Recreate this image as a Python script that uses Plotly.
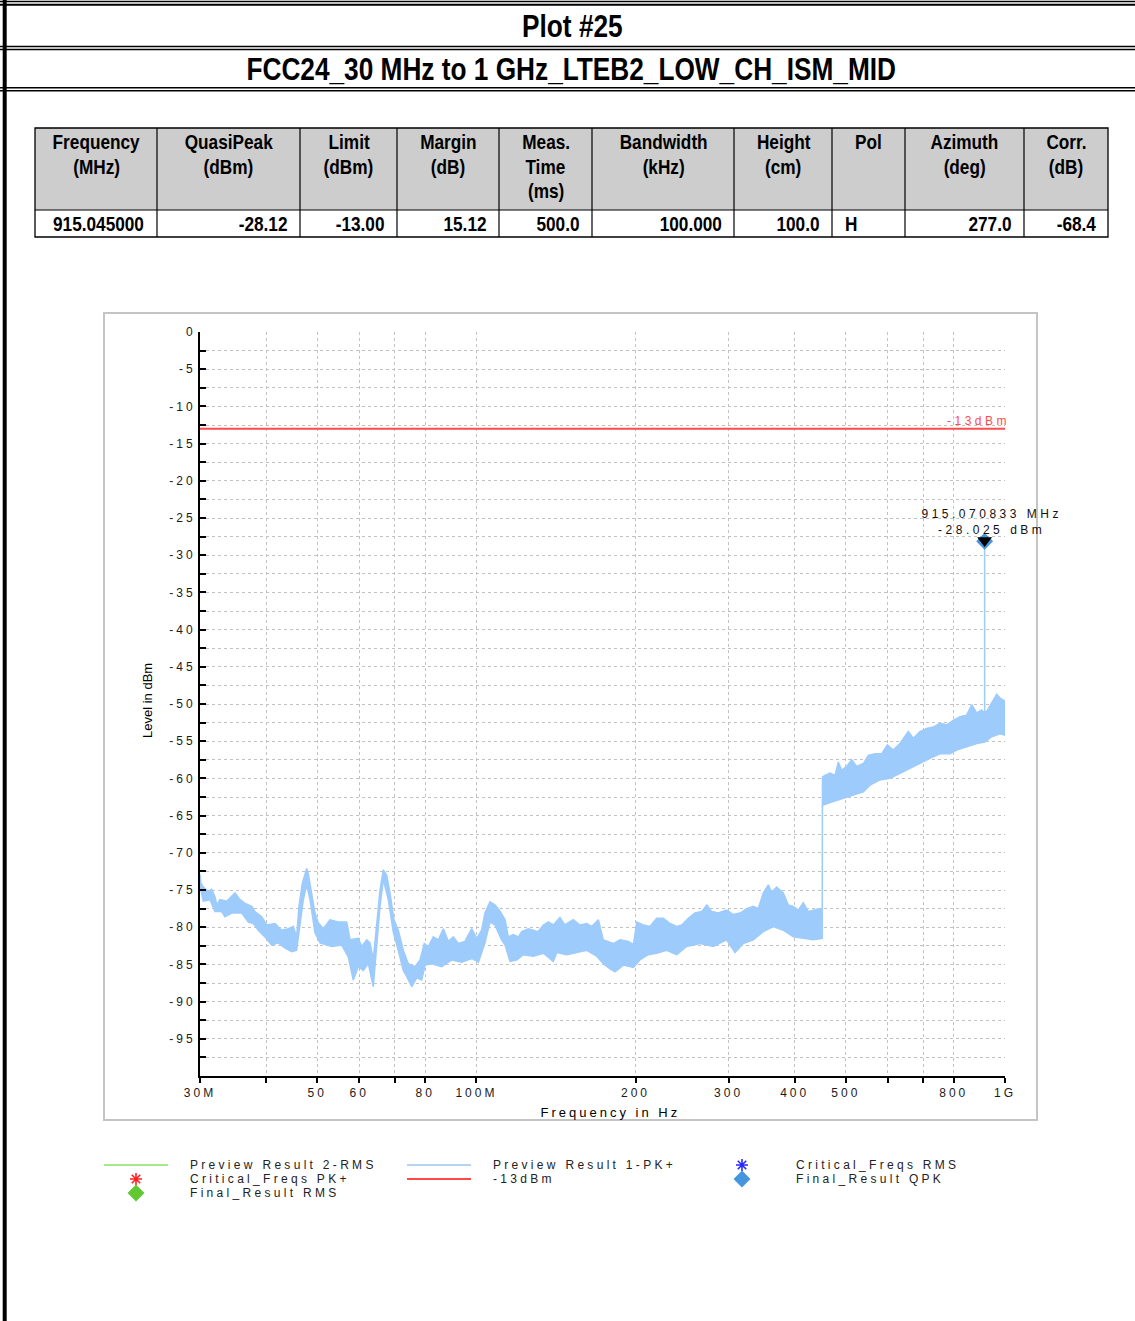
import math
import plotly.graph_objects as go

W, H = 1135, 1321

# ---------------- data ----------------
plot_title = "Plot #25"
test_name = "FCC24_30 MHz to 1 GHz_LTEB2_LOW_CH_ISM_MID"

table_headers = ["Frequency<br>(MHz)", "QuasiPeak<br>(dBm)", "Limit<br>(dBm)", "Margin<br>(dB)",
                 "Meas.<br>Time<br>(ms)", "Bandwidth<br>(kHz)", "Height<br>(cm)", "Pol",
                 "Azimuth<br>(deg)", "Corr.<br>(dB)"]
table_values = ["915.045000", "-28.12", "-13.00", "15.12", "500.0", "100.000", "100.0", "H", "277.0", "-68.4"]
table_align = ["center", "right", "right", "right", "right", "right", "right", "left", "right", "right"]

# Preview Result 1-PK+ : upper / lower envelope of the noisy trace (MHz, dBm)
pk_upper_freq = [30.0, 30.13, 30.44, 31.1, 31.57, 32.02, 32.27, 32.73, 33.7, 34.94, 35.71, 36.5, 37.58, 38.12,
                 39.25, 40.1, 41.6, 42.8, 44.08, 45.04, 45.7, 46.17, 46.84, 47.75, 48.08, 48.8, 49.5, 50.22,
                 51.34, 52.85, 54.78, 56.84, 57.67, 59.79, 60.68, 62.02, 62.91, 63.81, 64.77, 65.71, 66.66,
                 67.65, 68.63, 69.84, 71.16, 72.73, 74.34, 76.53, 78.22, 79.7, 81.1, 82.9, 84.72, 86.59, 88.49,
                 90.45, 92.44, 95.14, 97.97, 100.13, 102.3, 103.8, 106.1, 108.4, 110.8, 113.3, 114.9, 117.5,
                 120.1, 121.8, 125.4, 130.7, 133.9, 136.8, 139.8, 143.9, 147.0, 152.5, 157.0, 161.7, 165.2,
                 170.1, 173.8, 181.6, 187.0, 193.9, 198.2, 201.1, 207.0, 213.0, 219.3, 225.8, 232.4, 239.3,
                 244.6, 251.7, 259.2, 266.8, 272.8, 278.7, 286.8, 297.5, 306.2, 315.3, 324.6, 334.0, 341.4,
                 348.9, 356.6, 361.9, 369.9, 380.7, 389.0, 397.6, 406.4, 415.3, 424.4, 437.0, 446.7, 451.0,
                 451.5, 456.6, 466.6, 476.9, 483.8, 491.0, 501.8, 512.9, 524.2, 539.5, 551.4, 567.7, 584.5,
                 598.9, 614.8, 632.8, 656.2, 670.7, 690.4, 711.0, 731.8, 753.3, 775.6, 798.2, 822.0, 846.2,
                 865.0, 884.0, 903.4, 912.6, 915.0, 915.07, 915.14, 923.4, 943.7, 964.5, 978.5, 992.7, 1000.0]
pk_upper_level = [-72.9, -74.1, -74.6, -75.2, -74.9, -75.9, -77.0, -76.3, -76.5, -75.4, -76.3, -76.8, -77.2, -77.9,
                  -78.6, -79.7, -79.5, -80.4, -80.2, -79.9, -81.3, -77.2, -74.1, -72.1, -72.8, -75.4, -78.1, -79.4,
                  -80.2, -79.0, -79.3, -79.3, -81.7, -81.5, -82.6, -81.7, -82.1, -84.4, -79.9, -75.0, -72.3,
                  -73.0, -75.4, -79.0, -80.4, -83.1, -84.9, -85.3, -84.4, -82.2, -82.6, -81.3, -81.7, -80.2, -81.9,
                  -81.3, -82.2, -81.9, -80.2, -81.5, -80.4, -78.1, -76.6, -77.0, -77.8, -79.0, -81.3, -81.0,
                  -81.3, -80.6, -80.2, -80.6, -79.7, -79.3, -79.7, -78.7, -79.7, -79.0, -79.7, -79.5, -79.9,
                  -79.0, -81.7, -82.2, -81.7, -81.9, -82.3, -79.3, -79.7, -79.9, -78.8, -78.8, -79.5, -79.9,
                  -79.7, -78.8, -78.1, -77.9, -77.0, -77.9, -78.1, -77.7, -78.3, -78.1, -77.5, -77.2, -77.5,
                  -75.4, -74.3, -75.3, -74.6, -75.4, -77.0, -77.2, -77.7, -76.7, -77.9, -77.7, -77.5, -77.7,
                  -59.8, -59.6, -59.3, -59.6, -57.8, -58.9, -58.4, -57.5, -58.4, -58.0, -56.9, -56.7, -56.7,
                  -55.5, -56.2, -55.3, -53.7, -54.6, -53.7, -53.3, -53.1, -52.6, -52.8, -52.2, -51.7, -51.5,
                  -50.1, -51.2, -50.8, -51.2, -51.0, -28.025, -51.0, -51.0, -49.9, -48.7, -49.2, -49.4, -49.6]
pk_lower_freq = [30.0, 30.44, 31.34, 32.02, 32.97, 33.45, 34.44, 35.98, 37.03, 37.84, 38.68, 39.8, 41.0, 42.2,
                 43.45, 44.74, 45.7, 46.17, 47.05, 47.75, 48.44, 49.5, 50.6, 52.1, 53.24, 55.61, 57.23, 58.49,
                 59.79, 61.1, 62.46, 63.81, 64.77, 65.71, 66.66, 68.14, 69.64, 71.16, 72.73, 73.81, 75.44,
                 77.11, 78.8, 80.0, 82.3, 85.99, 89.82, 93.83, 97.97, 100.9, 103.8, 106.1, 108.4, 111.6, 113.3,
                 115.8, 119.2, 122.7, 128.1, 133.9, 139.8, 141.9, 148.2, 154.8, 161.7, 168.9, 173.8, 179.0,
                 182.9, 189.7, 198.2, 203.9, 211.4, 219.3, 229.1, 239.3, 249.9, 264.9, 280.7, 297.5, 308.5,
                 319.8, 334.0, 348.9, 364.5, 380.7, 397.6, 415.3, 433.8, 451.0, 451.5, 473.0, 494.5, 516.5,
                 539.5, 555.4, 580.0, 606.0, 632.8, 661.0, 690.4, 721.2, 753.3, 786.8, 810.2, 846.2, 884.0,
                 915.6, 943.7, 978.5, 1000.0]
pk_lower_level = [-74.5, -76.5, -76.3, -77.9, -77.9, -78.6, -78.1, -78.1, -79.3, -79.5, -80.4, -81.3, -82.4, -82.1,
                  -82.8, -83.3, -83.1, -80.7, -76.3, -74.3, -76.3, -80.7, -82.1, -82.4, -82.6, -82.4, -84.0, -87.1,
                  -85.3, -85.8, -84.9, -88.0, -83.1, -77.2, -73.6, -76.3, -80.7, -83.1, -85.8, -86.6, -88.0,
                  -86.8, -87.1, -85.1, -84.9, -85.3, -84.4, -84.7, -84.2, -84.7, -82.1, -79.3, -79.7, -81.7, -82.4,
                  -84.6, -84.4, -83.7, -83.9, -83.5, -84.6, -83.4, -83.7, -83.4, -83.1, -83.9, -84.9, -85.6,
                  -86.0, -85.1, -85.4, -84.4, -83.7, -83.5, -83.1, -83.7, -82.6, -82.2, -82.6, -81.7, -83.4,
                  -82.2, -81.7, -80.6, -79.9, -80.4, -81.3, -81.5, -81.7, -81.5, -63.6, -63.1, -62.7, -62.2,
                  -61.8, -60.9, -60.2, -60.0, -59.3, -58.6, -58.0, -57.3, -56.7, -56.7, -56.2, -55.7, -55.3,
                  -55.1, -54.4, -54.0, -54.2]

limit_freq = [30, 1000]
limit_level = [-13, -13]
limit_name = "-13dBm"

marker_freq = 915.070833
marker_level = -28.025
qpk_freq = [915.045]
qpk_level = [-28.12]

x_tickvals = [30, 40, 50, 60, 70, 80, 100, 200, 300, 400, 500, 600, 700, 800, 1000]
x_ticktext = ["30M", "", "50", "60", "", "80", "100M", "200", "300", "400", "500", "", "", "800", "1G"]
y_tickvals = [-2.5 * i for i in range(40)]
y_ticktext = [str(int(v)) if v % 5 == 0 else "" for v in y_tickvals]

legend_items = [
    ("Preview Result 2-RMS", "line", "#a6e88a"),
    ("Preview Result 1-PK+", "line", "#b4d4f4"),
    ("Critical_Freqs RMS", "asterisk", "#2a2aff"),
    ("Critical_Freqs PK+", "asterisk", "#ff2020"),
    ("-13dBm", "line", "#ff4a4a"),
    ("Final_Result QPK", "diamond", "#4596dc"),
    ("Final_Result RMS", "diamond", "#62c832"),
]

# ---------------- helpers ----------------
BASE = "Liberation Sans, Arial, sans-serif"
def NR(align="c", pct=82):   # horizontally condensed (applied by post script)
    return "nrw%d%s, %s" % (pct, align, BASE)

def SP(n, align="c"):        # letter-spaced (applied by post script), n = tenths of px
    return "lsp%d%s, %s" % (n, align, BASE)

def px(x):
    return x / W

def py(y):
    return 1 - y / H

shapes = []
annotations = []

def hline(x0, x1, y, w=1, color="black"):
    shapes.append(dict(type="line", xref="paper", yref="paper", x0=px(x0), x1=px(x1), y0=py(y), y1=py(y),
                       line=dict(color=color, width=w)))

def vline(x, y0, y1, w=1, color="black"):
    shapes.append(dict(type="line", xref="paper", yref="paper", x0=px(x), x1=px(x), y0=py(y0), y1=py(y1),
                       line=dict(color=color, width=w)))

def text(t, x, y, size, family, color="black", xanchor="center", yanchor="middle", angle=0):
    annotations.append(dict(text=t, x=px(x), y=py(y), xref="paper", yref="paper", showarrow=False,
                            xanchor=xanchor, yanchor=yanchor, textangle=angle, borderpad=0,
                            font=dict(size=size, family=family, color=color)))

# ---------------- page frame ----------------
hline(0, W, 1.5, 1.5)
hline(0, W, 4.7, 2)
hline(0, W, 46.5, 1.5)
hline(0, W, 49.5, 1.5)
hline(0, W, 87.8, 1.5)
hline(0, W, 90.7, 1.5)
vline(4.7, 0, H, 4)
text("<b>%s</b>" % plot_title, 572, 26, 32, NR("c"))
text("<b>%s</b>" % test_name, 571, 69, 32, NR("c"))

# ---------------- table ----------------
col_edges = [35, 157, 300, 397, 499, 592, 734, 832, 905, 1024, 1108]
t_top, t_mid, t_bot = 128, 210, 237
shapes.append(dict(type="rect", xref="paper", yref="paper", x0=px(35), x1=px(1108), y0=py(t_top), y1=py(t_mid),
                   fillcolor="#cdcdcd", line=dict(width=0), layer="below"))
shapes.append(dict(type="rect", xref="paper", yref="paper", x0=px(35), x1=px(1108), y0=py(t_top), y1=py(t_bot),
                   line=dict(color="black", width=1.3)))
hline(35, 1108, t_mid, 1.2)
for e in col_edges[1:-1]:
    vline(e, t_top, t_bot, 1.2)
for i, (hd, val, al) in enumerate(zip(table_headers, table_values, table_align)):
    l, r = col_edges[i], col_edges[i + 1]
    for k, line in enumerate(hd.split("<br>")):
        text("<b>%s</b>" % line, (l + r) / 2, 141.5 + 24.5 * k, 21, NR("c"))
    if al == "center":
        text("<b>%s</b>" % val, (l + r) / 2 + 2, 223.5, 21, NR("c"))
    elif al == "left":
        text("<b>%s</b>" % val, l + 12, 223.5, 21, NR("l"), xanchor="left")
    else:
        text("<b>%s</b>" % val, r - 11, 223.5, 21, NR("r"), xanchor="right")

# ---------------- chart frame ----------------
shapes.append(dict(type="rect", xref="paper", yref="paper", x0=px(104), x1=px(1037), y0=py(313), y1=py(1120),
                   line=dict(color="#c4c4c4", width=2)))
text("Level in dBm", 147, 701, 13, BASE, angle=-90)
text("Frequency in Hz", 610, 1112, 13, SP(30))

# ---------------- traces ----------------
fig = go.Figure()
band_x = pk_upper_freq + pk_lower_freq[::-1]
band_y = pk_upper_level + pk_lower_level[::-1]
fig.add_trace(go.Scatter(x=band_x, y=band_y, mode="lines", fill="toself", fillcolor="#9dcbfc",
                         line=dict(color="#9dcbfc", width=1.5), name="Preview Result 1-PK+", hoverinfo="skip"))
fig.add_trace(go.Scatter(x=limit_freq, y=limit_level, mode="lines", line=dict(color="#ff4c4c", width=2),
                         name=limit_name))
fig.add_trace(go.Scatter(x=qpk_freq, y=qpk_level, mode="markers",
                         marker=dict(symbol="diamond", size=13, color="#4596dc"), name="Final_Result QPK"))
fig.add_trace(go.Scatter(x=[marker_freq], y=[marker_level], mode="markers",
                         marker=dict(symbol="triangle-down", size=13, color="black"), name="marker"))

annotations.append(dict(text="%.6f MHz<br>%.3f dBm" % (marker_freq, marker_level),
                        x=math.log10(marker_freq), y=marker_level, xref="x", yref="y", showarrow=False,
                        xanchor="center", yanchor="bottom", xshift=7, yshift=3, borderpad=0,
                        font=dict(size=12, family=SP(35), color="#111")))
annotations.append(dict(text=limit_name, x=math.log10(limit_freq[-1]), y=limit_level[-1], xref="x", yref="y",
                        showarrow=False, xanchor="right", yanchor="bottom", xshift=6, yshift=0, borderpad=0,
                        font=dict(size=12, family=SP(35, "r"), color="#ff4c4c")))

# ---------------- legend (custom, below chart) ----------------
leg_cols = [(104, 189), (407, 492), (710, 795)]
leg_rows = [1165, 1179, 1193]
leg_pos = [(0, 0), (1, 0), (2, 0), (0, 1), (1, 1), (2, 1), (0, 2)]
for (name, kind, color), (c, r) in zip(legend_items, leg_pos):
    sx, tx = leg_cols[c]
    y = leg_rows[r]
    if kind == "line":
        hline(sx, sx + 64, y, 2, color)
    else:
        sym = "asterisk-open" if kind == "asterisk" else "diamond"
        fig.add_trace(go.Scatter(x=[sx + 32], y=[y], xaxis="x3", yaxis="y3", mode="markers",
                                 marker=dict(symbol=sym, size=10 if kind == "asterisk" else 13, color=color,
                                             line=dict(color=color, width=1.6 if kind == "asterisk" else 0)),
                                 hoverinfo="skip", cliponaxis=True))
    text(name, tx, y, 12, SP(33, "l"), color="#222", xanchor="left")

grid = dict(showgrid=True, gridcolor="#c2c2c2", griddash="dot", gridwidth=1, zeroline=False)
fig.update_layout(
    width=W, height=H, margin=dict(l=0, r=0, t=0, b=0, pad=0, autoexpand=False), autosize=False,
    paper_bgcolor="white", plot_bgcolor="rgba(0,0,0,0)", showlegend=False,
    xaxis=dict(type="log", range=[math.log10(30), math.log10(1000)], domain=[px(200), px(1005)],
               tickvals=x_tickvals, ticktext=x_ticktext, ticks="outside", ticklen=5, tickwidth=1.5,
               tickcolor="black", showline=True, linecolor="black", linewidth=2, automargin=False,
               tickfont=dict(size=12, family=SP(30, "n"), color="#1a1a1a"), **grid),
    yaxis=dict(range=[-100, 0], domain=[py(1076), py(332)], tickvals=y_tickvals, ticktext=y_ticktext,
               ticks="inside", ticklen=6, tickwidth=1.5, tickcolor="black", showline=True, linecolor="black",
               linewidth=2, automargin=False, tickfont=dict(size=12, family=SP(30, "n"), color="#1a1a1a"),
               **grid),
    xaxis3=dict(domain=[0, 1], range=[0, W], visible=False, anchor="y3", fixedrange=True, automargin=False),
    yaxis3=dict(domain=[0, 1], range=[H, 0], visible=False, anchor="x3", fixedrange=True, automargin=False),
    shapes=shapes, annotations=annotations,
)

post = """
var de = document.documentElement, bd = document.body;
[de, bd].forEach(function(e){
  e.style.margin = '0'; e.style.padding = '0'; e.style.overflow = 'hidden';
});
var gd = document.getElementById('{plot_id}');
gd.style.position = 'fixed'; gd.style.left = '0px'; gd.style.top = '0px';
function shiftX(el, dx) {
  if (el.hasAttribute('x')) el.setAttribute('x', parseFloat(el.getAttribute('x')) + dx);
  el.querySelectorAll('tspan[x]').forEach(function(ts){
    ts.setAttribute('x', parseFloat(ts.getAttribute('x')) + dx);
  });
}
gd.querySelectorAll('text').forEach(function(t){
  var ff = (t.style && t.style.fontFamily) || t.getAttribute('font-family') || '';
  var m = ff.match(/lsp(\\d+)([lcrn]?)/);
  var n = ff.match(/nrw(\\d+)([lcr]?)/);
  if (m) {
    var b0 = t.getBBox();
    t.style.letterSpacing = (parseInt(m[1]) / 10) + 'px';
    var a = m[2] || 'c';
    if (a === 'n') return;
    var b1 = t.getBBox(), dx = 0;
    if (a === 'l') dx = b0.x - b1.x;
    else if (a === 'r') dx = (b0.x + b0.width) - (b1.x + b1.width);
    else dx = (b0.x + b0.width / 2) - (b1.x + b1.width / 2);
    if (Math.abs(dx) > 0.1) shiftX(t, dx);
  } else if (n) {
    var s = parseInt(n[1]) / 100;
    var o = {l: 'left', c: 'center', r: 'right'}[n[2] || 'c'];
    t.style.transformBox = 'fill-box';
    t.style.transformOrigin = o + ' center';
    t.style.transform = 'scaleX(' + s + ')';
  }
});
"""
fig.write_html("out.html", post_script=post, config={"displayModeBar": False})
